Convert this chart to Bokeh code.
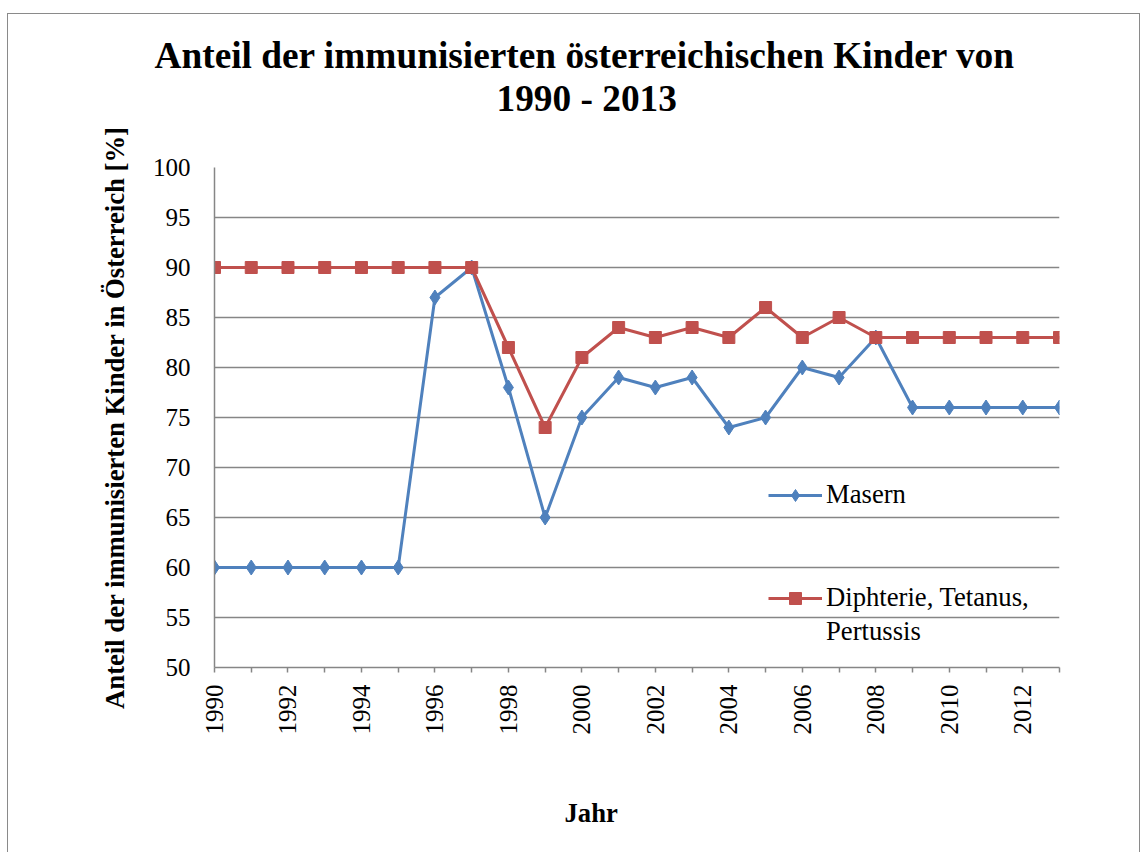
from bokeh.plotting import figure
from bokeh.models import Range1d, FixedTicker, Legend, LegendItem, Title
from bokeh.embed import file_html
from bokeh.resources import INLINE

years = [1990, 1991, 1992, 1993, 1994, 1995, 1996, 1997, 1998, 1999, 2000, 2001,
         2002, 2003, 2004, 2005, 2006, 2007, 2008, 2009, 2010, 2011, 2012, 2013]
masern = [60, 60, 60, 60, 60, 60, 87, 90, 78, 65, 75, 79,
          78, 79, 74, 75, 80, 79, 83, 76, 76, 76, 76, 76]
dtp = [90, 90, 90, 90, 90, 90, 90, 90, 82, 74, 81, 84,
       83, 84, 83, 86, 83, 85, 83, 83, 83, 83, 83, 83]
y_ticks = [50, 55, 60, 65, 70, 75, 80, 85, 90, 95, 100]
x_label_years = [1990, 1992, 1994, 1996, 1998, 2000, 2002, 2004, 2006, 2008, 2010, 2012]

title_1 = "Anteil der immunisierten österreichischen Kinder von"
title_2 = "1990 - 2013"
y_title = "Anteil der immunisierten Kinder in Österreich [%]"
x_title = "Jahr"
names = ["Masern", "Diphterie, Tetanus,", "Pertussis"]

FONT = "Liberation Serif"
BLUE = "#4F81BD"
RED = "#C0504D"
GRID = "#868686"

p = figure(width=1133, height=839, output_backend="svg", toolbar_location=None,
           x_range=Range1d(years[0], years[-1]), y_range=Range1d(y_ticks[0], y_ticks[-1]),
           min_border_left=206, min_border_right=82, min_border_top=153, min_border_bottom=186)
p.margin = (13, 0, 0, 7)
p.styles = {"border-left": "1.5px solid #8a8a8a", "border-top": "1.5px solid #8a8a8a",
            "border-right": "1.5px solid #8a8a8a", "box-sizing": "border-box"}
p.outline_line_color = None
p.background_fill_color = "white"
p.border_fill_color = "white"

l1 = p.line(years, masern, line_color=BLUE, line_width=3)
s1 = p.scatter(years, masern, marker="diamond", size=15, fill_color=BLUE, line_color=BLUE)
l2 = p.line(years, dtp, line_color=RED, line_width=3)
s2 = p.scatter(years, dtp, marker="square", size=12, fill_color=RED, line_color=RED)
ghost = p.line([], [], line_alpha=0)

# axes
p.xaxis.ticker = FixedTicker(ticks=years)
p.xaxis.major_label_overrides = {y: (str(y) if y in x_label_years else "") for y in years}
p.xaxis.major_label_orientation = 1.5707963
p.xaxis.major_tick_in = 0
p.xaxis.major_tick_out = 5
p.xaxis.minor_tick_line_color = None
p.xaxis.axis_line_color = GRID
p.xaxis.axis_line_width = 1.5
p.xaxis.major_tick_line_color = GRID
p.xaxis.major_tick_line_width = 1.5
p.xaxis.major_label_text_font = FONT
p.xaxis.major_label_text_font_size = "25px"
p.xaxis.major_label_text_color = "black"
p.xaxis.major_label_standoff = 12

p.yaxis.ticker = FixedTicker(ticks=y_ticks)
p.yaxis.major_tick_in = 0
p.yaxis.major_tick_out = 0
p.yaxis.minor_tick_line_color = None
p.yaxis.axis_line_color = GRID
p.yaxis.axis_line_width = 1.5
p.yaxis.major_label_text_font = FONT
p.yaxis.major_label_text_font_size = "25px"
p.yaxis.major_label_text_color = "black"
p.yaxis.major_label_standoff = 24
p.yaxis.axis_label = y_title
p.yaxis.axis_label_text_font = FONT
p.yaxis.axis_label_text_font_size = "26.67px"
p.yaxis.axis_label_text_font_style = "bold"
p.yaxis.axis_label_text_color = "black"
p.yaxis.axis_label_standoff = 20

p.xgrid.grid_line_color = None
p.ygrid.grid_line_color = GRID
p.ygrid.grid_line_width = 1.5
p.ygrid.ticker = FixedTicker(ticks=y_ticks)

# titles: panels stack outward from the frame; thin blank titles act as spacers
def spacer(gap):
    return Title(text=" ", text_font_size="1px", standoff=gap)

bold = dict(text_font=FONT, text_font_style="bold", text_color="black", align="left", standoff=0)
p.add_layout(spacer(46), "above")
p.add_layout(Title(text=title_2, offset=282, text_font_size="37.33px", **bold), "above")
p.add_layout(Title(text=title_1, offset=-60, text_font_size="37.33px", **bold), "above")

p.add_layout(spacer(55), "below")
p.add_layout(Title(text=x_title, offset=350, text_font_size="26.67px", **bold), "below")

common = dict(padding=0, margin=0, glyph_width=54, glyph_height=30, label_height=30,
              label_standoff=4, label_text_font=FONT, label_text_font_size="26.67px",
              label_text_color="black", border_line_color=None, background_fill_alpha=0)
legend_a = Legend(items=[LegendItem(label=names[0], renderers=[l1, s1])],
                  location=(554, 157), **common)
legend_b = Legend(items=[LegendItem(label=names[1], renderers=[l2, s2]),
                         LegendItem(label=names[2], renderers=[ghost])],
                  location=(554, 20), spacing=3, **common)
p.add_layout(legend_a, "center")
p.add_layout(legend_b, "center")

open("out.html", "w").write(file_html(p, INLINE))
